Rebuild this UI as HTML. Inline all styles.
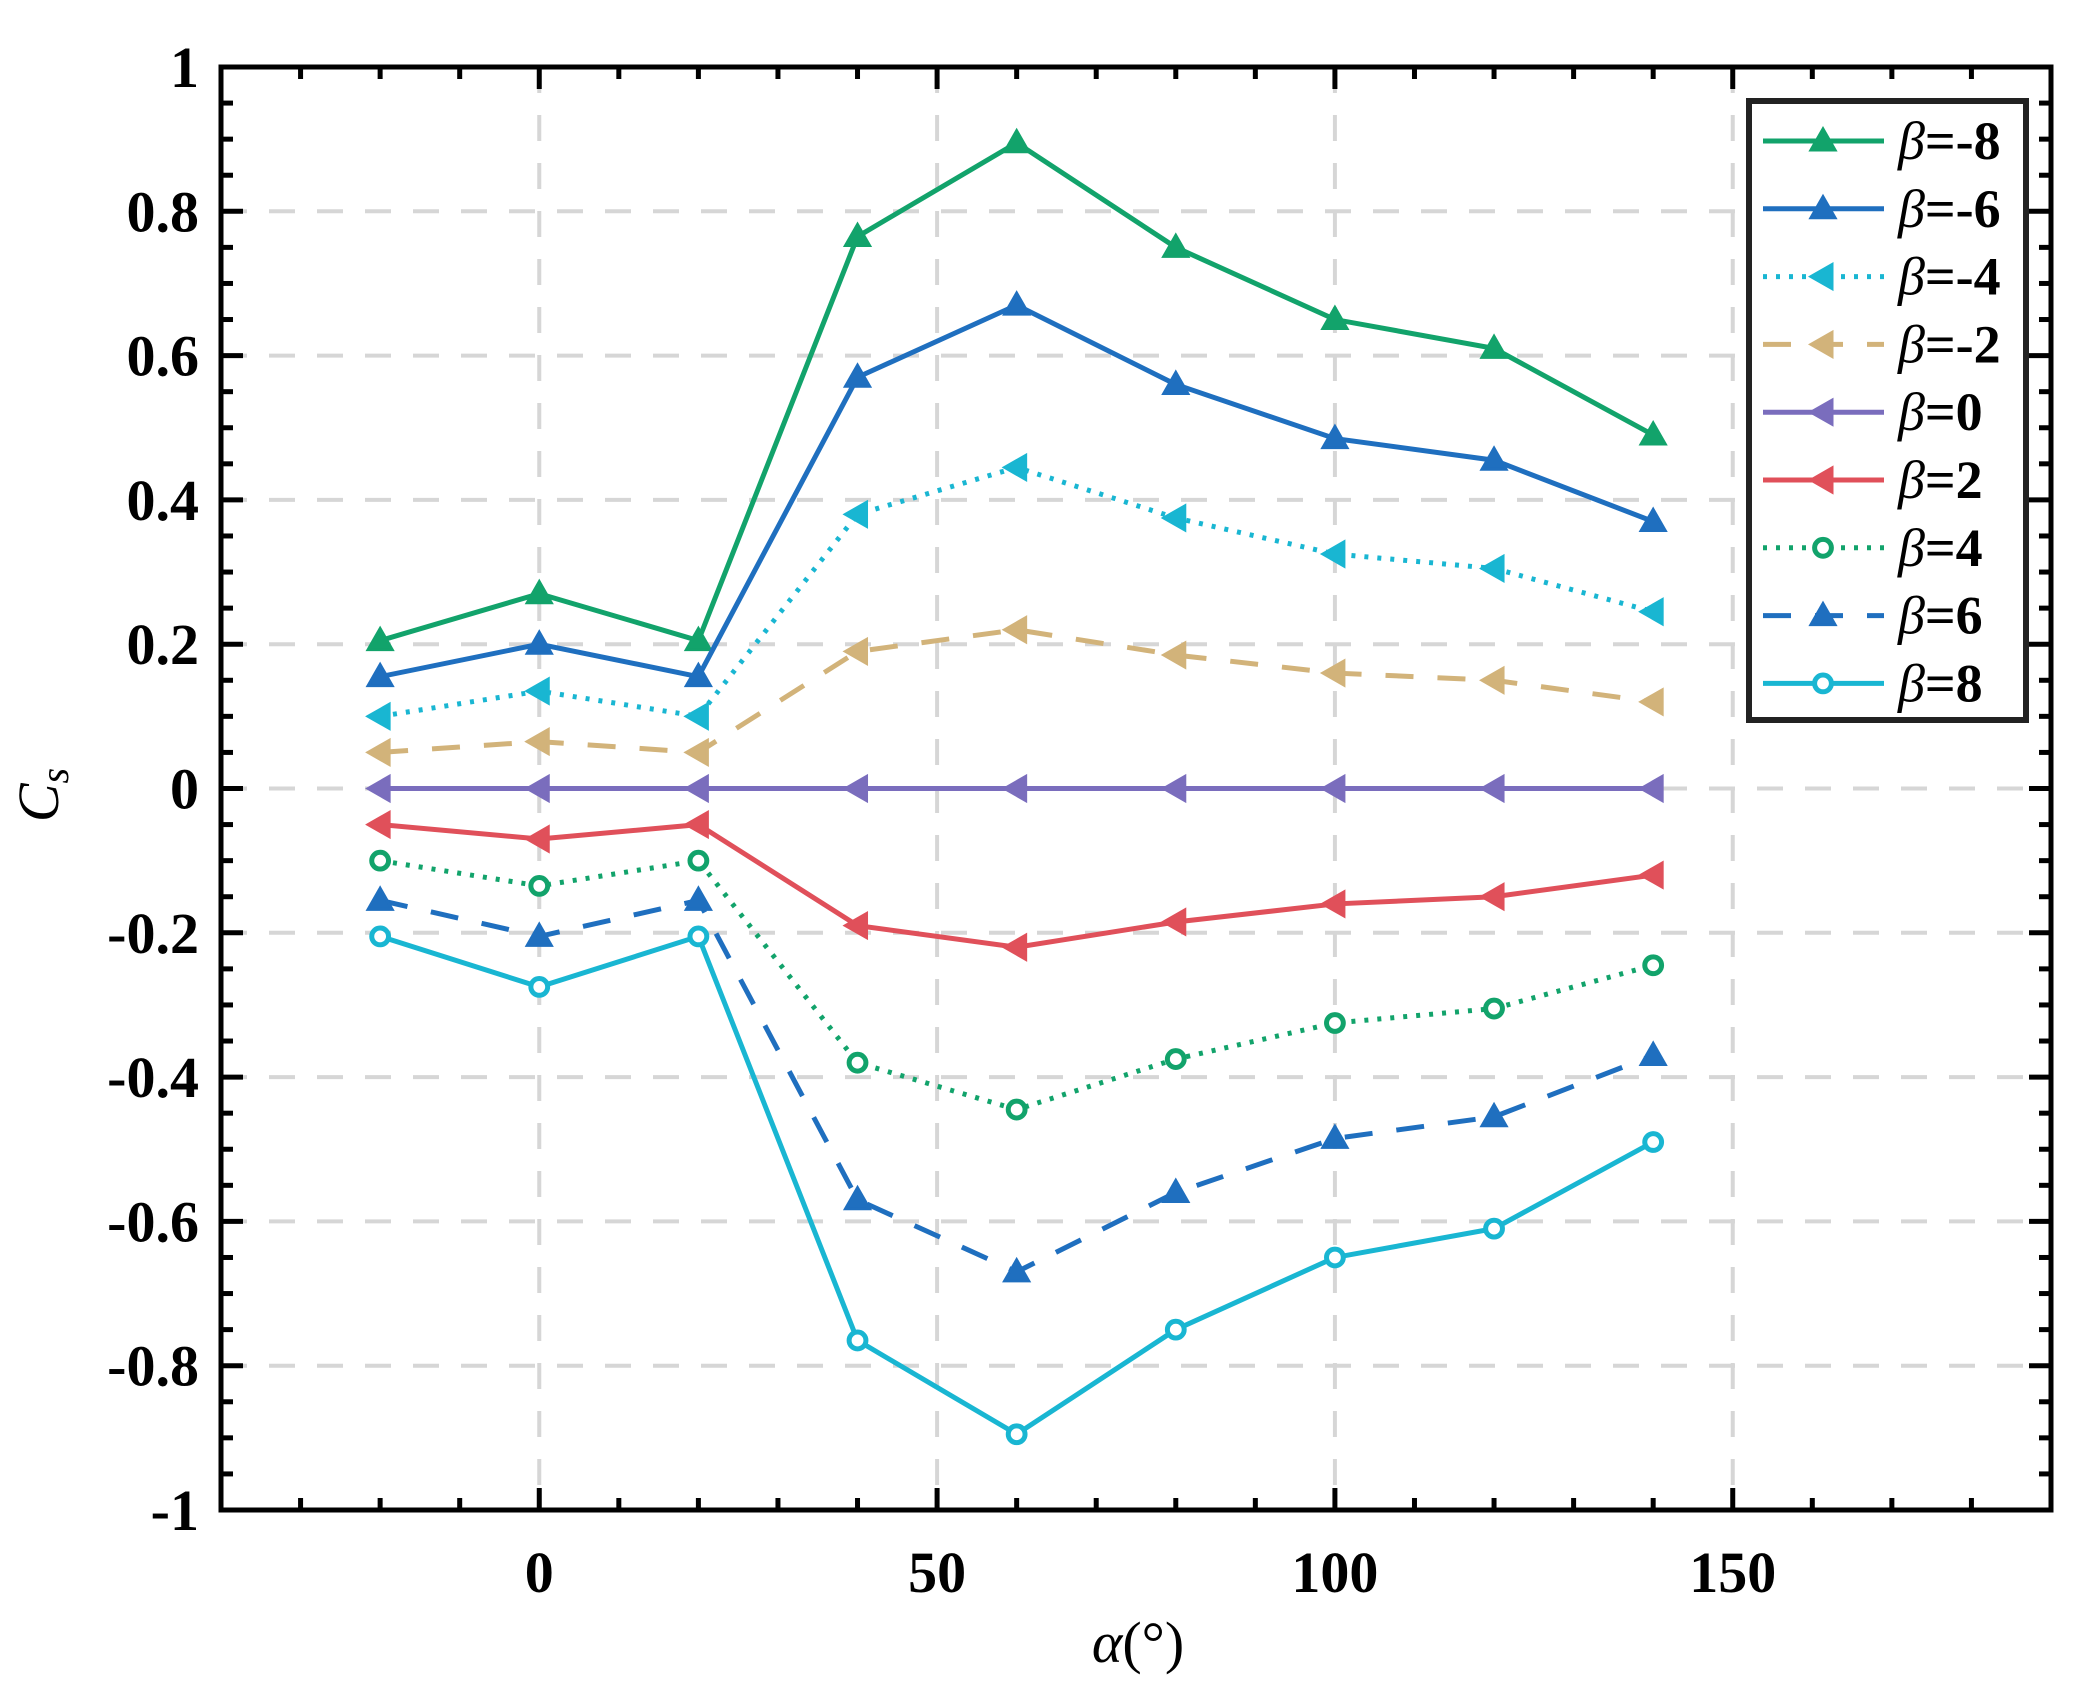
<!DOCTYPE html>
<html><head><meta charset="utf-8">
<style>
html,body{margin:0;padding:0;background:#fff;}
svg{display:block;}
text{font-family:"Liberation Serif",serif;}
</style></head>
<body>
<svg id="chart" width="2099" height="1706" viewBox="0 0 2099 1706" xmlns="http://www.w3.org/2000/svg">
<g id="grid"></g>
<g id="series"></g>
<g id="axes"></g>
<g id="legend"></g>
<text x="1138" y="1662" text-anchor="middle" font-size="58" font-style="italic">α<tspan font-style="normal">(°)</tspan></text>
<text transform="translate(58,795) rotate(-90)" text-anchor="middle" font-size="58" font-style="italic">C<tspan font-size="40" dy="10">s</tspan></text>
</svg>
<script>
const xValues = [-20, 0, 20, 40, 60, 80, 100, 120, 140];
const seriesNames = ["β=-8","β=-6","β=-4","β=-2","β=0","β=2","β=4","β=6","β=8"];
const sM8 = [0.205,0.27,0.205,0.765,0.895,0.75,0.65,0.61,0.49];
const sM6 = [0.155,0.20,0.155,0.57,0.67,0.56,0.485,0.455,0.37];
const sM4 = [0.10,0.135,0.10,0.38,0.445,0.375,0.325,0.305,0.245];
const sM2 = [0.05,0.065,0.05,0.19,0.22,0.185,0.16,0.15,0.12];
const s0 = [0,0,0,0,0,0,0,0,0];
const sP2 = [-0.05,-0.07,-0.05,-0.19,-0.22,-0.185,-0.16,-0.15,-0.12];
const sP4 = [-0.10,-0.135,-0.10,-0.38,-0.445,-0.375,-0.325,-0.305,-0.245];
const sP6 = [-0.155,-0.205,-0.155,-0.57,-0.67,-0.56,-0.485,-0.455,-0.37];
const sP8 = [-0.205,-0.275,-0.205,-0.765,-0.895,-0.75,-0.65,-0.61,-0.49];
const xTicks = [0,50,100,150];
const yTicks = [-1,-0.8,-0.6,-0.4,-0.2,0,0.2,0.4,0.6,0.8,1];
const yTickLabels = ["-1","-0.8","-0.6","-0.4","-0.2","0","0.2","0.4","0.6","0.8","1"];

const L=221,R=2051,T=67,B=1510, XMIN=-40,XMAX=190,YMIN=-1,YMAX=1;
const X=v=>L+(v-XMIN)/(XMAX-XMIN)*(R-L);
const Y=v=>B-(v-YMIN)/(YMAX-YMIN)*(B-T);
const NS="http://www.w3.org/2000/svg";
function mk(tag,attrs,parent){const e=document.createElementNS(NS,tag);for(const k in attrs)e.setAttribute(k,attrs[k]);parent.appendChild(e);return e;}

const styles=[
 {c:"#12a36b",d:"",m:"tri"},
 {c:"#1f6fbf",d:"",m:"tri"},
 {c:"#19b6d2",d:"4 9",m:"left"},
 {c:"#d2b37a",d:"28 24",m:"left"},
 {c:"#7a6dbd",d:"",m:"left"},
 {c:"#e0505a",d:"",m:"left"},
 {c:"#12a36b",d:"4 9",m:"circ"},
 {c:"#1f6fbf",d:"28 24",m:"tri"},
 {c:"#19b6d2",d:"",m:"circ"}];
const data=[sM8,sM6,sM4,sM2,s0,sP2,sP4,sP6,sP8];

const grid=document.getElementById('grid');
xTicks.forEach(t=>{const l=mk('line',{x1:X(t),x2:X(t),y1:T,y2:B,stroke:"#d6d6d6","stroke-width":4,"stroke-dasharray":"26 22"},grid);

});
yTicks.forEach(t=>{const l=mk('line',{x1:L,x2:R,y1:Y(t),y2:Y(t),stroke:"#d6d6d6","stroke-width":4,"stroke-dasharray":"26 22"},grid);

});

function marker(g,type,x,y,c,s){
 let e;
 if(type==="tri") e=mk('polygon',{points:`${x},${y-s} ${x-s},${y+s*0.75} ${x+s},${y+s*0.75}`,fill:c,stroke:c,"stroke-width":3},g);
 else if(type==="left") e=mk('polygon',{points:`${x-s},${y} ${x+s*0.75},${y-s} ${x+s*0.75},${y+s}`,fill:c,stroke:c,"stroke-width":3},g);
 else e=mk('circle',{cx:x,cy:y,r:s*0.7,fill:"#fff",stroke:c,"stroke-width":5},g);
 return e;
}
const sg=document.getElementById('series');
data.forEach((arr,i)=>{
 const st=styles[i];
 const g=mk('g',{},sg);
 
 
 const p=mk('polyline',{points:arr.map((v,j)=>X(xValues[j])+","+Y(v)).join(" "),fill:"none",stroke:st.c,"stroke-width":5,"stroke-dasharray":st.d},g);
 
 
 arr.forEach((v,j)=>{const m=marker(g,st.m,X(xValues[j]),Y(v),st.c,12);
  
  });
});

const ax=document.getElementById('axes');
const frame=mk('rect',{x:L,y:T,width:R-L,height:B-T,fill:"none",stroke:"#000","stroke-width":5},ax);


for(let v=-40;v<=190;v+=10){const maj=v%50===0;const len=maj?22:12;
 mk('line',{x1:X(v),x2:X(v),y1:B,y2:B-len,stroke:"#000","stroke-width":5},ax);
 mk('line',{x1:X(v),x2:X(v),y1:T,y2:T+len,stroke:"#000","stroke-width":5},ax);}
for(let k=-20;k<=20;k++){const v=k*0.05;const maj=k%4===0;const len=maj?22:12;
 mk('line',{x1:L,x2:L+len,y1:Y(v),y2:Y(v),stroke:"#000","stroke-width":5},ax);
 mk('line',{x1:R,x2:R-len,y1:Y(v),y2:Y(v),stroke:"#000","stroke-width":5},ax);}
xTicks.forEach(t=>{const e=mk('text',{x:X(t),y:1592,"text-anchor":"middle","font-size":58,"font-weight":"bold"},ax);e.textContent=t;
 
 });
yTicks.forEach((t,i)=>{const e=mk('text',{x:199,y:Y(t)+20,"text-anchor":"end","font-size":58,"font-weight":"bold"},ax);e.textContent=yTickLabels[i];
 
 });

const lg=document.getElementById('legend');
const box=mk('rect',{x:1749,y:101,width:277,height:619,fill:"#fff",stroke:"#222","stroke-width":6},lg);


seriesNames.forEach((n,i)=>{
 const st=styles[i];const y=141+i*67.8;
 const g=mk('g',{},lg);
 
 
 mk('line',{x1:1763,x2:1884,y1:y,y2:y,stroke:st.c,"stroke-width":5,"stroke-dasharray":st.d},g);
 marker(g,st.m,1823,y,st.c,12);
 const t=mk('text',{x:1898,y:y+18,"font-size":54,"font-weight":"bold"},g);
 t.innerHTML='<tspan font-style="italic" font-weight="normal">β</tspan>'+n.slice(1);
});
</script>
</body></html>
